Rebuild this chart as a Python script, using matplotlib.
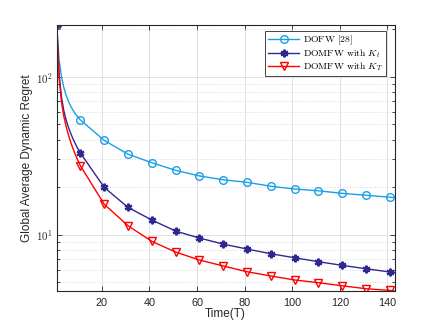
import numpy as np
import matplotlib
matplotlib.use("Agg")
import matplotlib.pyplot as plt
from matplotlib.ticker import LogLocator, FuncFormatter, NullFormatter, FixedLocator

plt.rcParams['mathtext.fontset'] = 'cm'
plt.rcParams['font.family'] = ['Liberation Sans', 'DejaVu Sans']

# ---- data ----
t_dofw = [1, 2, 3, 4, 5, 6, 7, 8, 9, 10, 11, 21, 31, 41, 51, 61, 71, 81, 91, 101,
          111, 121, 131, 141, 143]
v_dofw = [215, 128.8, 100.6, 85.7, 76.3, 69.7, 64.8, 61.0, 58.0, 55.5, 53.4, 39.6,
          32.4, 28.6, 25.6, 23.6, 22.3, 21.5, 20.3, 19.5, 19.0, 18.3, 17.8, 17.3, 17.2]

t_kt = [1, 2, 3, 4, 5, 6, 7, 8, 9, 10, 11, 21, 31, 41, 51, 61, 71, 81, 91, 101,
        111, 121, 131, 141, 143]
v_kt = [215, 104.0, 74.9, 61.1, 53.2, 47.7, 43.5, 40.1, 37.3, 34.9, 32.9, 19.95,
        14.9, 12.4, 10.55, 9.53, 8.73, 8.12, 7.58, 7.15, 6.75, 6.40, 6.09, 5.81, 5.75]

t_kT = [1, 2, 3, 4, 5, 6, 7, 8, 9, 10, 11, 21, 31, 41, 51, 61, 71, 81, 91, 101,
        111, 121, 131, 141, 143]
v_kT = [215, 100, 69.6, 56.3, 48.3, 42.6, 38.2, 34.7, 31.8, 29.4, 27.3, 15.6,
        11.4, 9.08, 7.77, 6.92, 6.34, 5.83, 5.48, 5.17, 4.97, 4.75, 4.55, 4.44, 4.40]

labels = [r'$\mathrm{DOFW\ [28]}$', r'$\mathrm{DOMFW\ with\ }K_t$', r'$\mathrm{DOMFW\ with\ }K_T$']
x_ticks = [20, 40, 60, 80, 100, 120, 140]

c_blue = '#1AA0E6'
c_purple = '#2F2891'
c_red = '#FF0000'

fig = plt.figure(figsize=(4.36, 3.27), dpi=100)
ax = fig.add_axes([0.13, 0.11, 0.775, 0.815])

def mk_idx(ts):
    return [i for i, t in enumerate(ts) if (t - 1) % 10 == 0]

ax.plot(t_dofw, v_dofw, color=c_blue, lw=1.0, marker='o', markersize=5.5,
        markerfacecolor='none', markeredgewidth=1.0, markevery=mk_idx(t_dofw), label=labels[0])
ax.plot(t_kt, v_kt, color=c_purple, lw=1.0, marker=(6, 2, 0), markersize=5.5,
        markeredgewidth=1.6, markevery=mk_idx(t_kt), label=labels[1])
ax.plot(t_kT, v_kT, color=c_red, lw=1.0, marker='v', markersize=6,
        markerfacecolor='none', markeredgewidth=1.0, markevery=mk_idx(t_kT), label=labels[2])

ax.set_yscale('log')
ax.set_xlim(1, 143)
ax.set_ylim(min(v_kT), max(v_dofw))
ax.xaxis.set_major_locator(FixedLocator(x_ticks))
ax.yaxis.set_major_locator(LogLocator(base=10))
ax.yaxis.set_minor_locator(LogLocator(base=10, subs=np.arange(2, 10)))
ax.yaxis.set_major_formatter(FuncFormatter(
    lambda v, p: r'$\mathsf{10^{%d}}$' % int(round(np.log10(v)))))
ax.yaxis.set_minor_formatter(NullFormatter())

ax.grid(True, which='major', color='#DCDCDC', lw=0.6, ls='-')
ax.grid(True, which='minor', axis='y', color='#CFCFCF', lw=0.6, ls=(0, (1, 2)))
ax.set_axisbelow(True)

for s in ax.spines.values():
    s.set_color('#262626')
    s.set_linewidth(0.8)
ax.tick_params(which='both', direction='in', top=True, right=True, colors='#262626',
               labelsize=7.8, width=0.6)
ax.tick_params(which='major', length=3.5)
ax.tick_params(axis='x', which='major', pad=5)
ax.tick_params(axis='y', which='major', pad=3)
ax.tick_params(which='minor', length=2)

ax.set_xlabel('Time(T)', fontsize=8.5, color='#262626', labelpad=0)
ax.set_ylabel('Global Average Dynamic Regret', fontsize=8.5, color='#262626', labelpad=2)

leg = ax.legend(loc='upper right', bbox_to_anchor=(0.975, 0.975), fontsize=7,
                fancybox=False, framealpha=1, edgecolor='#262626', borderpad=0.3,
                labelspacing=0.02, handlelength=3.2, handletextpad=0.4, borderaxespad=0)
leg.get_frame().set_linewidth(0.6)

fig.savefig('out.png', dpi=100)
